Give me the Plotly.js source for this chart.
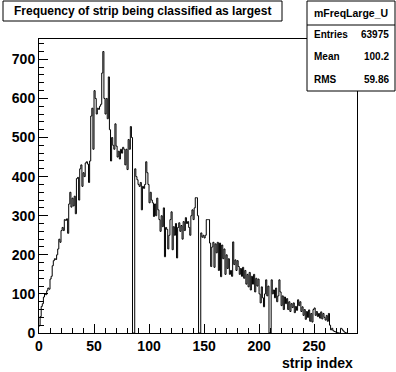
<!DOCTYPE html>
<html><head><meta charset="utf-8">
<script src="https://cdn.plot.ly/plotly-3.0.1.min.js"></script>
<style>html,body{margin:0;padding:0;background:#fff}#c{width:396px;height:372px}</style>
</head><body><div id="c"></div>
<script>
// bin counts, strip index 0 .. N-1 (one bin per strip)
const counts = [
 18, 42, 68, 75, 92, 100, 98, 108, 115, 112,
 138, 145, 172, 185, 190, 188, 200, 215, 240, 232,
 262, 270, 262, 290, 288, 292, 255, 330, 360, 322,
 345, 325, 350, 305, 395, 398, 340, 420, 430, 375,
 410, 400, 435, 438, 432, 385, 440, 555, 575, 470,
 620, 600, 560, 575, 572, 580, 585, 665, 720, 600,
 560, 600, 548, 655, 520, 440, 500, 480, 470, 535,
 478, 450, 465, 445, 470, 460, 475, 470, 430, 470,
 418, 495, 470, 528, 500, 0, 0, 420, 400, 392,
 380, 375, 385, 315, 375, 370, 380, 438, 410, 380,
 333, 360, 340, 333, 298, 330, 300, 345, 315, 290,
 260, 300, 272, 320, 195, 270, 265, 215, 250, 290,
 310, 213, 272, 250, 280, 192, 270, 282, 260, 275,
 240, 285, 262, 295, 280, 285, 270, 250, 300, 315,
 290, 320, 346, 346, 300, 0, 0, 256, 245, 250,
 243, 250, 290, 290, 290, 230, 170, 220, 232, 168,
 228, 205, 232, 160, 230, 144, 225, 190, 215, 150,
 200, 165, 190, 150, 160, 145, 233, 175, 187, 160,
 185, 170, 150, 165, 145, 168, 140, 160, 125, 150,
 118, 155, 110, 145, 125, 150, 105, 140, 120, 138,
 100, 77, 118, 90, 67, 100, 136, 95, 120, 0,
 0, 136, 100, 110, 90, 115, 80, 95, 136, 105,
 70, 95, 60, 92, 75, 88, 60, 80, 55, 75,
 65, 77, 52, 68, 58, 85, 70, 80, 55, 67,
 45, 60, 35, 55, 40, 59, 30, 50, 28, 60,
 64, 45, 55, 42, 50, 38, 54, 36, 50, 40,
 33, 45, 30, 50, 20, 8, 12, 6, 4, 3,
 2, 1, 0, 0, 12, 10, 6, 3, 1, 0
];
const xTickVals = [0, 50, 100, 150, 200, 250];
const yTickVals = [0, 100, 200, 300, 400, 500, 600, 700];
const titleText = "Frequency of strip being classified as largest";
const xTitle = "strip index";
const statName = "mFreqLarge_U";
const statLabels = ["Entries", "Mean", "RMS"];
const statValues = ["63975", "100.2", "59.86"];

// step outline from bin edges
const xs = [], ys = [];
counts.forEach((c, i) => { xs.push(i); ys.push(c); });
xs.push(counts.length); ys.push(counts[counts.length - 1]);
xs.push(counts.length); ys.push(0);

const L = 39, R = 357, T = 39, B = 333, W = 396, H = 372;
const px = x => (x - L) / (R - L);
const py = y => (B - y) / (B - T);
const FONT = "Liberation Sans, Arial, sans-serif";

const shapes = [
  {type:'rect', xref:'paper', yref:'paper', x0:px(3), x1:px(282), y0:py(1), y1:py(21),
   line:{color:'#000', width:1}, fillcolor:'#fff', layer:'above'},
  {type:'rect', xref:'paper', yref:'paper', x0:px(307), x1:px(395), y0:py(1), y1:py(91),
   line:{color:'#000', width:1}, fillcolor:'#fff', layer:'above'},
  {type:'line', xref:'paper', yref:'paper', x0:px(307), x1:px(395), y0:py(25), y1:py(25),
   line:{color:'#000', width:1}, layer:'above'}
];
const annotations = [
  {xref:'paper', yref:'paper', x:px(142.5), y:py(11), text:'<b>'+titleText+'</b>', showarrow:false,
   xanchor:'center', yanchor:'middle', font:{family:FONT, size:12, color:'#000'}},
  {xref:'paper', yref:'paper', x:px(351), y:py(13.5), text:'<b>'+statName+'</b>', showarrow:false,
   xanchor:'center', yanchor:'middle', font:{family:FONT, size:10.5, color:'#000'}},
  {xref:'paper', yref:'paper', x:px(355), y:py(363), text:'<b>'+xTitle+'</b>', showarrow:false,
   xanchor:'right', yanchor:'middle', font:{family:FONT, size:14, color:'#000'}}
];
const rowsY = [35, 57, 79];
statLabels.forEach((s, i) => {
  annotations.push({xref:'paper', yref:'paper', x:px(312), y:py(rowsY[i]), text:'<b>'+s+'</b>', showarrow:false,
    xanchor:'left', yanchor:'middle', font:{family:FONT, size:10, color:'#000'}});
  annotations.push({xref:'paper', yref:'paper', x:px(391), y:py(rowsY[i]), text:'<b>'+statValues[i]+'</b>', showarrow:false,
    xanchor:'right', yanchor:'middle', font:{family:FONT, size:10, color:'#000'}});
});

Plotly.newPlot('c', [{
  type:'scatter', mode:'lines', x:xs, y:ys,
  line:{shape:'hv', color:'#000', width:1}, hoverinfo:'skip'
}], {
  width:W, height:H,
  margin:{l:L, r:W-R, t:T, b:H-B, pad:0},
  paper_bgcolor:'#fff', plot_bgcolor:'#fff',
  showlegend:false,
  xaxis:{range:[0, 289], tickvals:xTickVals, ticktext:xTickVals.map(v=>'<b>'+v+'</b>'),
    ticks:'inside', ticklen:9, tickcolor:'#000', tickwidth:1,
    minor:{ticks:'inside', dtick:10, tick0:0, ticklen:5, tickcolor:'#000', showgrid:false},
    showline:true, linecolor:'#000', linewidth:1, mirror:true, showgrid:false, zeroline:false,
    tickfont:{family:FONT, size:14, color:'#000'}, fixedrange:true},
  yaxis:{range:[0, 752], tickvals:yTickVals, ticktext:yTickVals.map(v=>'<b>'+v+'</b>'),
    ticks:'inside', ticklen:9, tickcolor:'#000', tickwidth:1,
    minor:{ticks:'inside', dtick:20, tick0:0, ticklen:5, tickcolor:'#000', showgrid:false},
    showline:true, linecolor:'#000', linewidth:1, mirror:true, showgrid:false, zeroline:false,
    tickfont:{family:FONT, size:14, color:'#000'}, fixedrange:true},
  shapes:shapes, annotations:annotations
}, {staticPlot:true, displayModeBar:false});
</script></body></html>
